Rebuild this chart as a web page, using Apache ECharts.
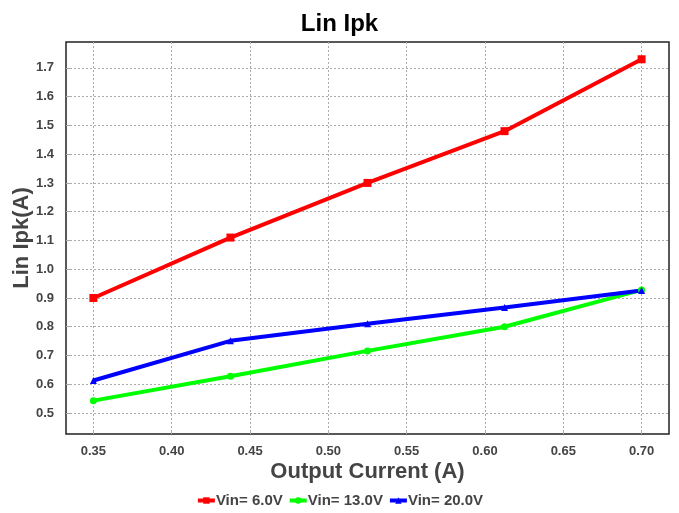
<!DOCTYPE html>
<html><head><meta charset="utf-8">
<script src="https://cdn.jsdelivr.net/npm/echarts@6/dist/echarts.min.js"></script>
<style>html,body{margin:0;padding:0;background:#fff}#c{width:679px;height:513px}</style>
</head><body><div id="c"></div>
<script>
const xValues = [0.35, 0.4375, 0.525, 0.6125, 0.70];
const vin6 = [0.90, 1.11, 1.30, 1.48, 1.73];
const vin13 = [0.543, 0.628, 0.716, 0.80, 0.928];
const vin20 = [0.613, 0.751, 0.810, 0.867, 0.926];
const xTicks = [0.35, 0.40, 0.45, 0.50, 0.55, 0.60, 0.65, 0.70];
const yTicks = [0.5, 0.6, 0.7, 0.8, 0.9, 1.0, 1.1, 1.2, 1.3, 1.4, 1.5, 1.6, 1.7];
const seriesNames = ['Vin= 6.0V', 'Vin= 13.0V', 'Vin= 20.0V'];

const font = 'Liberation Sans, Arial, sans-serif';
const pair = arr => arr.map((v, i) => [xValues[i], v]);
const chart = echarts.init(document.getElementById('c'));
chart.setOption({
  animation: false,
  title: { text: 'Lin Ipk', left: 'center', top: 7,
    textStyle: { fontFamily: font, fontSize: 24, fontWeight: 'bold', color: '#000' } },
  grid: { left: 66, right: 10, top: 42, bottom: 79, show: true, borderColor: '#222', borderWidth: 1.5,
    outerBoundsMode: 'none', containLabel: false },
  legend: { bottom: 0, left: 'center', itemWidth: 17, itemHeight: 8, itemGap: 5,
    lineStyle: { width: 4 },
    textStyle: { fontFamily: font, fontSize: 15, fontWeight: 'bold', color: '#444', padding: [0,0,0,-4] },
    data: seriesNames },
  xAxis: { type: 'value', min: 0.3325, max: 0.7175,
    name: 'Output Current (A)', nameLocation: 'middle', nameGap: 27, nameMoveOverlap: false,
    nameTextStyle: { fontFamily: font, fontSize: 22, fontWeight: 'bold', color: '#444' },
    axisLine: { show: false },
    axisTick: { show: true, inside: true, length: 4, customValues: xTicks, lineStyle: { color: '#aaa' } },
    axisLabel: { customValues: xTicks, margin: 11, formatter: v => v.toFixed(2),
      fontFamily: font, fontSize: 13, fontWeight: 'bold', color: '#444' },
    splitLine: { show: true, lineStyle: { color: '#aaa', type: [2, 2], width: 1 } } },
  yAxis: { type: 'value', min: 0.427, max: 1.79,
    name: 'Lin Ipk(A)', nameLocation: 'middle', nameGap: 33, nameMoveOverlap: false,
    nameTextStyle: { fontFamily: font, fontSize: 22, fontWeight: 'bold', color: '#444' },
    axisLine: { show: false },
    axisTick: { show: true, inside: true, length: 4, customValues: yTicks, lineStyle: { color: '#aaa' } },
    axisLabel: { customValues: yTicks, margin: 12, formatter: v => v.toFixed(1),
      fontFamily: font, fontSize: 13, fontWeight: 'bold', color: '#444' },
    splitLine: { show: true, lineStyle: { color: '#aaa', type: [2, 2], width: 1 } } },
  series: [
    { name: seriesNames[0], type: 'line', data: pair(vin6), symbol: 'rect', symbolSize: 8,
      itemStyle: { color: '#ff0000' }, lineStyle: { width: 4, color: '#ff0000' } },
    { name: seriesNames[1], type: 'line', data: pair(vin13), symbol: 'circle', symbolSize: 7,
      itemStyle: { color: '#00ff00' }, lineStyle: { width: 4, color: '#00ff00' } },
    { name: seriesNames[2], type: 'line', data: pair(vin20), symbol: 'triangle', symbolSize: 7,
      itemStyle: { color: '#0000ff' }, lineStyle: { width: 4, color: '#0000ff' } }
  ]
});
</script></body></html>
